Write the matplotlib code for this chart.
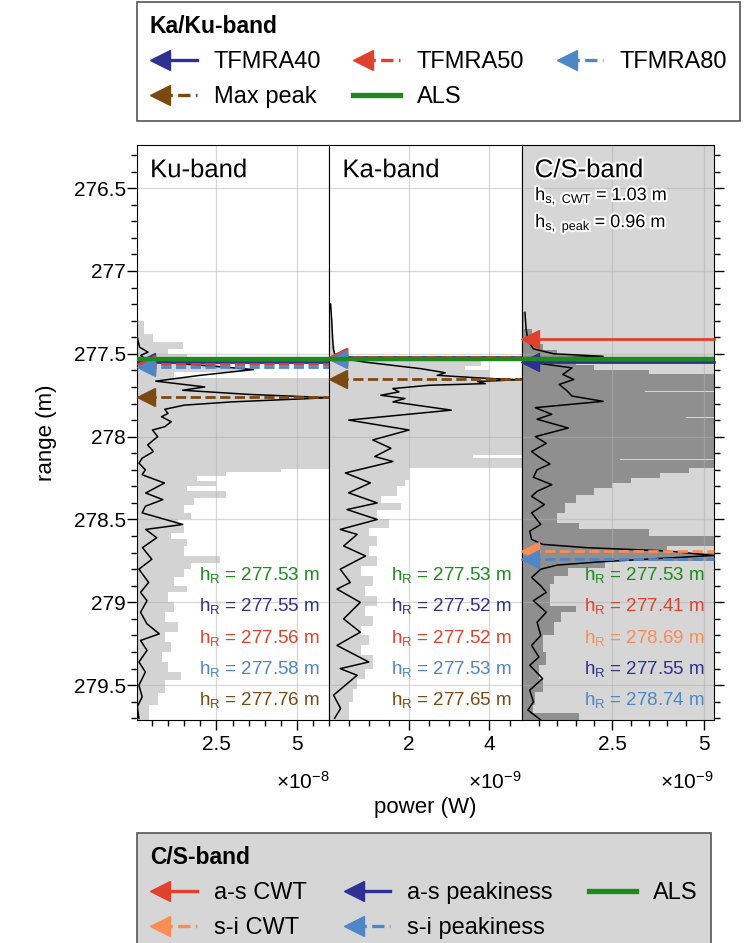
import numpy as np
import matplotlib
matplotlib.use('Agg')
import matplotlib.pyplot as plt
import matplotlib.patheffects as pe
from matplotlib.lines import Line2D
from matplotlib.legend_handler import HandlerLine2D
from matplotlib.ticker import MultipleLocator, FuncFormatter

plt.rcParams['font.family'] = ['Liberation Sans', 'DejaVu Sans']
plt.rcParams['mathtext.default'] = 'regular'

# ---- data -------------------------------------------------------------
# grey envelopes (step, value holds from r until the next r)
ku_env_r = [277.20, 277.30, 277.38, 277.43, 277.47, 277.50, 277.55, 277.59, 277.61,
            277.645, 278.195, 278.215, 278.24, 278.27, 278.30, 278.33, 278.37, 278.41,
            278.46, 278.50, 278.54, 278.58, 278.62, 278.66, 278.72, 278.76, 278.80,
            278.85, 278.90, 278.94, 279.00, 279.06, 279.12, 279.18, 279.24, 279.30,
            279.36, 279.42, 279.47, 279.55, 279.62, 279.72]
ku_env_p = [0.05, 0.25, 0.55, 1.45, 1.0, 1.6, 2.6, 3.4, 1.2,
            6.5, 4.5, 2.8, 1.9, 2.5, 1.6, 2.8, 1.8, 1.5,
            1.7, 1.3, 1.5, 1.1, 1.6, 1.5, 2.6, 1.7, 1.5,
            1.2, 1.6, 1.0, 1.2, 0.9, 1.3, 0.9, 1.1, 0.8,
            1.0, 1.4, 0.9, 0.7, 0.4, 0.4]

ka_env_r = [277.20, 277.45, 277.50, 277.54, 277.575, 277.60, 277.645, 278.11, 278.13,
            278.19, 278.26, 278.30, 278.36, 278.40, 278.44, 278.50, 278.55, 278.60,
            278.66, 278.72, 278.78, 278.84, 278.90, 278.96, 279.02, 279.08, 279.14,
            279.20, 279.26, 279.32, 279.40, 279.46, 279.52, 279.60, 279.72]
ka_env_p = [0.08, 0.15, 0.5, 3.8, 3.4, 4.0, 5.5, 3.6, 5.5,
            2.0, 1.9, 1.7, 1.3, 1.8, 1.2, 1.5, 1.0, 1.2,
            1.0, 1.2, 0.8, 1.1, 0.9, 1.2, 0.9, 1.1, 0.8,
            1.0, 0.8, 1.1, 0.9, 0.7, 0.6, 0.5, 0.5]

cs_env_r = [277.25, 277.35, 277.44, 277.48, 277.505, 277.54, 277.57, 277.60, 277.62,
            277.722, 277.73, 277.882, 277.89, 278.132, 278.14, 278.19, 278.22, 278.25,
            278.28, 278.31, 278.35, 278.40, 278.46, 278.52, 278.56, 278.60, 278.66,
            278.70, 278.75, 278.79, 278.84, 278.89, 279.02, 279.06, 279.12, 279.20,
            279.30, 279.38, 279.46, 279.54, 279.62, 279.67, 279.72]
cs_env_p = [0.1, 0.3, 0.6, 1.0, 1.8, 1.5, 2.0, 3.5, 5.5,
            3.4, 5.5, 4.5, 5.5, 2.7, 5.5, 4.6, 3.8, 3.0,
            2.5, 2.0, 1.5, 1.2, 1.0, 1.6, 3.5, 5.5, 4.0,
            5.5, 2.3, 1.3, 0.9, 0.8, 1.5, 1.1, 0.9, 0.6,
            0.7, 0.5, 0.6, 0.4, 0.35, 1.6, 1.6]

# mean waveforms (black lines)
ku_wf_r = [277.20, 277.30, 277.40, 277.46, 277.49, 277.51, 277.53, 277.56, 277.575,
           277.595, 277.63, 277.665, 277.70, 277.72, 277.745, 277.765, 277.79, 277.81,
           277.835, 277.86, 277.88, 277.91, 277.94, 277.96, 278.00, 278.05, 278.09,
           278.13, 278.16, 278.20, 278.23, 278.28, 278.34, 278.38, 278.42, 278.46,
           278.53, 278.56, 278.61, 278.67, 278.74, 278.80, 278.88, 278.94, 278.99,
           279.06, 279.13, 279.19, 279.23, 279.29, 279.36, 279.42, 279.50, 279.57,
           279.63, 279.70]
ku_wf_p = [0.02, 0.03, 0.05, 0.12, 0.38, 0.15, 0.3, 1.4, 2.4,
           3.65, 2.0, 0.62, 2.14, 1.45, 3.5, 6.0, 3.0, 1.5,
           0.9, 1.0, 0.8, 1.1, 0.9, 0.52, 0.68, 0.37, 0.55,
           0.2, 0.1, 0.3, 0.2, 0.89, 0.31, 0.84, 0.3, 0.2,
           1.46, 0.31, 0.65, 0.21, 0.5, 0.1, 0.4, 0.15, 0.35,
           0.15, 0.35, 0.73, 0.15, 0.35, 0.1, 0.3, 0.1, 0.2,
           0.05, 0.1]

ka_wf_r = [277.20, 277.30, 277.40, 277.47, 277.50, 277.53, 277.55, 277.57, 277.59,
           277.61, 277.615, 277.63, 277.645, 277.657, 277.667, 277.68, 277.69, 277.71,
           277.73, 277.75, 277.77, 277.79, 277.84, 277.90, 277.96, 278.02, 278.07,
           278.12, 278.15, 278.219, 278.279, 278.339, 278.40, 278.44, 278.50, 278.56,
           278.59, 278.66, 278.72, 278.80, 278.88, 278.92, 279.00, 279.10, 279.18,
           279.26, 279.36, 279.40, 279.44, 279.56, 279.64, 279.70]
ka_wf_p = [0.05, 0.08, 0.1, 0.12, 0.15, 0.4, 0.9, 1.6, 2.3,
           2.8, 2.9, 2.7, 3.7, 4.7, 3.7, 3.9, 2.5, 1.6,
           1.75, 1.3, 1.9, 1.6, 3.05, 0.5, 2.0, 1.1, 1.55,
           1.15, 1.6, 0.42, 1.04, 0.5, 1.21, 0.46, 1.21, 0.29,
           0.71, 0.375, 0.92, 0.29, 0.54, 0.21, 0.79, 0.375, 0.79,
           0.21, 1.0, 0.29, 0.71, 0.125, 0.3, 0.15]

cs_wf_r = [277.25, 277.35, 277.42, 277.47, 277.50, 277.515, 277.53, 277.55, 277.585,
           277.625, 277.655, 277.685, 277.72, 277.755, 277.787, 277.825, 277.865, 277.895,
           277.948, 278.00, 278.04, 278.09, 278.13, 278.165, 278.20, 278.245, 278.29,
           278.33, 278.36, 278.41, 278.46, 278.53, 278.57, 278.62, 278.65, 278.67,
           278.69, 278.717, 278.735, 278.755, 278.775, 278.80, 278.85, 278.90, 278.94,
           278.99, 279.06, 279.12, 279.20, 279.26, 279.33, 279.38, 279.46, 279.53,
           279.60, 279.65, 279.71]
cs_wf_p = [0.12, 0.15, 0.2, 0.35, 0.9, 2.25, 0.6, 0.25, 1.4,
           1.15, 1.45, 1.05, 1.25, 1.4, 2.25, 0.4, 0.85, 0.45,
           1.3, 0.4, 0.7, 0.3, 0.55, 0.8, 0.45, 0.35, 0.85,
           0.45, 0.3, 0.65, 0.3, 0.55, 0.25, 0.3, 0.6, 1.8,
           4.0, 5.25, 3.8, 2.2, 1.0, 0.55, 0.3, 0.55, 0.7,
           0.35, 0.7, 0.45, 0.55, 0.3, 0.5, 0.25, 0.6, 0.25,
           0.35, 0.2, 0.55]

# retracked ranges
kaku_methods = ['ALS', 'TFMRA40', 'TFMRA50', 'TFMRA80', 'Max peak']
ku_hr = [277.53, 277.55, 277.56, 277.58, 277.76]
ka_hr = [277.53, 277.52, 277.52, 277.53, 277.65]
cs_methods = ['ALS', 'a-s CWT', 's-i CWT', 'a-s peakiness', 's-i peakiness']
cs_hr = [277.53, 277.41, 278.69, 277.55, 278.74]
hs_cwt = 1.03
hs_peak = 0.96

# ---- styles -----------------------------------------------------------
c_als = '#1d8a1d'
c_red = '#e0412c'
c_orange = '#f98d55'
c_dblue = '#2e3192'
c_lblue = '#4f86c6'
c_brown = '#7b4a12'

styles = {
    'ALS': dict(color=c_als, ls='-', lw=3.2, marker=None),
    'TFMRA40': dict(color=c_dblue, ls='-', lw=2.0, marker='<'),
    'TFMRA50': dict(color=c_red, ls='--', lw=2.0, marker='<'),
    'TFMRA80': dict(color=c_lblue, ls='--', lw=2.0, marker='<'),
    'Max peak': dict(color=c_brown, ls='--', lw=2.0, marker='<'),
    'a-s CWT': dict(color=c_red, ls='-', lw=2.0, marker='<'),
    's-i CWT': dict(color=c_orange, ls='--', lw=2.0, marker='<'),
    'a-s peakiness': dict(color=c_dblue, ls='-', lw=2.0, marker='<'),
    's-i peakiness': dict(color=c_lblue, ls='--', lw=2.0, marker='<'),
}

panels = [
    dict(name='Ku-band', env_r=ku_env_r, env_p=ku_env_p, wf_r=ku_wf_r, wf_p=ku_wf_p,
         scale=1e-8, exp=-8, xlim=(0.04, 6.0), major=2.5, minor=0.5,
         methods=kaku_methods, hr=ku_hr, bg='white', fill='#d3d3d3'),
    dict(name='Ka-band', env_r=ka_env_r, env_p=ka_env_p, wf_r=ka_wf_r, wf_p=ka_wf_p,
         scale=1e-9, exp=-9, xlim=(0.02, 4.8), major=2.0, minor=0.5,
         methods=kaku_methods, hr=ka_hr, bg='white', fill='#d3d3d3'),
    dict(name='C/S-band', env_r=cs_env_r, env_p=cs_env_p, wf_r=cs_wf_r, wf_p=cs_wf_p,
         scale=1e-9, exp=-9, xlim=(0.03, 5.27), major=2.5, minor=0.5,
         methods=cs_methods, hr=cs_hr, bg='#d6d6d6', fill='#8f8f8f'),
]

halo = [pe.withStroke(linewidth=3, foreground='white')]


class ArrowHandler(HandlerLine2D):
    # legend handle with the marker at the left end, like an arrow head
    def create_artists(self, legend, orig_handle, xdescent, ydescent, width,
                       height, fontsize, trans):
        artists = super().create_artists(legend, orig_handle, xdescent, ydescent,
                                         width, height, fontsize, trans)
        for a in artists:
            if isinstance(a, Line2D) and a.get_marker() not in (None, 'None', ''):
                x = np.asarray(a.get_xdata(), float).copy()
                x[0] += 0.5 * a.get_markersize()
                a.set_xdata(x)
                a.set_markevery([0])
        return artists


fig = plt.figure(figsize=(7.49, 9.43), dpi=100)
left, bottom, height = 137 / 749, 1 - 720 / 943, 575 / 943
pw = (714 - 137) / 3 / 749

axes = []
for i, p in enumerate(panels):
    ax = fig.add_axes([left + i * pw, bottom, pw, height])
    axes.append(ax)
    ax.set_facecolor(p['bg'])
    sc = p['scale']
    env_r = np.array(p['env_r'])
    env_p = np.array(p['env_p']) * sc
    ax.fill_betweenx(env_r, 0, env_p, step='post', color=p['fill'], lw=0, zorder=1)
    ax.plot(np.array(p['wf_p']) * sc, p['wf_r'], color='black', lw=1.1, zorder=3)

    # retracker lines with arrow heads at the left edge
    for m, r in zip(p['methods'][1:], p['hr'][1:]):
        st = styles[m]
        ax.plot([0.045, 1.0], [r, r], transform=ax.get_yaxis_transform(),
                color=st['color'], ls=st['ls'], lw=st['lw'], marker=st['marker'],
                markersize=13, markevery=[0], zorder=4, clip_on=False)
    st = styles['ALS']
    ax.plot([0.0, 1.0], [p['hr'][0], p['hr'][0]], transform=ax.get_yaxis_transform(),
            color=st['color'], lw=st['lw'], zorder=5)

    ax.set_xlim(p['xlim'][0] * sc, p['xlim'][1] * sc)
    ax.set_ylim(279.71, 276.24)

    ax.xaxis.set_major_locator(MultipleLocator(p['major'] * sc))
    ax.xaxis.set_minor_locator(MultipleLocator(p['minor'] * sc))
    ax.xaxis.set_major_formatter(FuncFormatter(lambda v, pos, s=sc: '%g' % round(v / s, 3)))
    ax.yaxis.set_major_locator(MultipleLocator(0.5))
    ax.yaxis.set_minor_locator(MultipleLocator(0.1))
    ax.yaxis.set_major_formatter(FuncFormatter(lambda v, pos: '%g' % round(v, 2)))
    ax.grid(True, which='major', color='#b0b0b0', alpha=0.5, lw=0.9)

    ax.tick_params(which='both', direction='out', labelsize=15, width=1)
    ax.tick_params(which='major', length=7)
    ax.tick_params(which='minor', length=4)
    ax.tick_params(axis='y', pad=1)
    if i == 0:
        ax.tick_params(axis='y', which='both', left=True, right=False)
        ax.set_ylabel('range (m)', fontsize=16, labelpad=12)
    elif i == 1:
        ax.tick_params(axis='y', which='both', left=False, right=False, labelleft=False)
    else:
        ax.tick_params(axis='y', which='both', left=False, right=True,
                       labelleft=False, labelright=False)

    ax.text(1.0, -0.12, '×10$^{%d}$' % p['exp'], transform=ax.transAxes,
            ha='right', va='baseline', fontsize=15)

    ax.text(0.068, 0.944, p['name'], transform=ax.transAxes, fontsize=18.5,
            ha='left', va='baseline', path_effects=halo, zorder=6)

    ys = 0.2435
    for m, r in zip(p['methods'], p['hr']):
        ax.text(0.95, ys, '$h_R$ = %.2f m' % r, transform=ax.transAxes,
                color=styles[m]['color'], fontsize=13.5, ha='right', va='baseline',
                zorder=6)
        ys -= 0.0545

axes[2].text(0.07, 0.904, '$h_{s,\\ CWT}$ = %.2f m' % hs_cwt,
             transform=axes[2].transAxes, fontsize=13, path_effects=halo, zorder=6)
axes[2].text(0.07, 0.857, '$h_{s,\\ peak}$ = %.2f m' % hs_peak,
             transform=axes[2].transAxes, fontsize=13, path_effects=halo, zorder=6)

fig.text(left + 1.5 * pw, 1 - 807 / 943, 'power (W)', ha='center', va='center',
         fontsize=16)


def legend_handles(order):
    hs = []
    for m in order:
        st = styles[m]
        hs.append(Line2D([], [], color=st['color'], ls=st['ls'], lw=st['lw'] * 1.2,
                         marker=st['marker'] or 'None', markersize=13))
    return hs


leg_kw = dict(loc='upper left', ncol=3, fontsize=17, alignment='left',
              fancybox=False, framealpha=1, edgecolor='#555555', markerscale=1.15,
              handlelength=2.0, handletextpad=0.7,
              borderpad=0.55, labelspacing=0.55, borderaxespad=0,
              title_fontproperties={'weight': 'bold', 'size': 16.5},
              handler_map={Line2D: ArrowHandler()})

top_order = ['TFMRA40', 'Max peak', 'TFMRA50', 'ALS', 'TFMRA80']
leg1 = fig.legend(legend_handles(top_order), top_order, title='Ka/Ku-band',
                  bbox_to_anchor=(left, 1 - 2 / 943), facecolor='white',
                  columnspacing=1.35, **leg_kw)
leg1.get_frame().set_linewidth(1.2)

bot_order = ['a-s CWT', 's-i CWT', 'a-s peakiness', 's-i peakiness', 'ALS']
leg2 = fig.legend(legend_handles(bot_order), bot_order, title='C/S-band',
                  bbox_to_anchor=(left, 1 - 833 / 943), facecolor='#d6d6d6',
                  columnspacing=1.55, **leg_kw)
leg2.get_frame().set_linewidth(1.2)

fig.savefig('out.png', dpi=100)
